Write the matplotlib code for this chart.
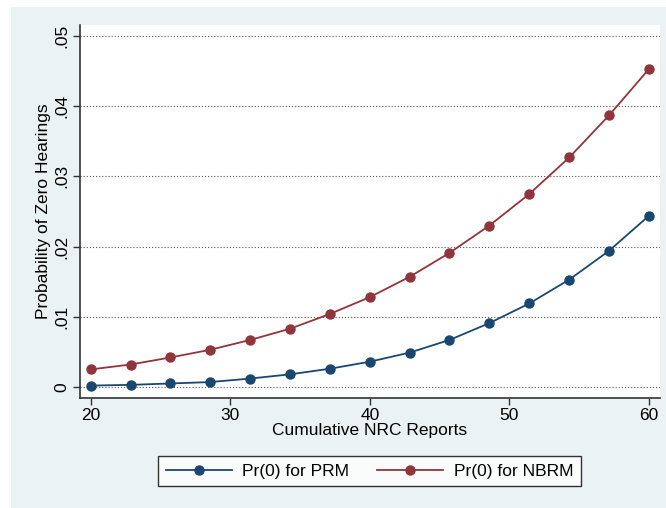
import matplotlib
matplotlib.use("Agg")
import matplotlib.pyplot as plt
from matplotlib.patches import Rectangle

plt.rcParams['font.family'] = ['Liberation Sans', 'DejaVu Sans']

# cumulative NRC reports (15 points, 20 to 60)
reports = [20, 22.86, 25.71, 28.57, 31.43, 34.29, 37.14, 40,
           42.86, 45.71, 48.57, 51.43, 54.29, 57.14, 60]
pr0_prm = [0.0002, 0.0003, 0.0005, 0.0007, 0.0012, 0.0018, 0.0026, 0.0036,
           0.0049, 0.0067, 0.0091, 0.0119, 0.0153, 0.0194, 0.0244]
pr0_nbrm = [0.0025, 0.0032, 0.0042, 0.0053, 0.0067, 0.0083, 0.0104, 0.0128,
            0.0157, 0.0191, 0.0230, 0.0275, 0.0327, 0.0387, 0.0453]
yticks = [0, 0.01, 0.02, 0.03, 0.04, 0.05]
ytick_labels = ["0", ".01", ".02", ".03", ".04", ".05"]
xticks = [20, 30, 40, 50, 60]

W, H = 666, 508
fs = 12.5
fig = plt.figure(figsize=(W / 100, H / 100), dpi=100)
fig.patch.set_facecolor("white")
fig.patches.append(Rectangle((11 / W, 0), 1 - 11 / W, 1 - 7 / H,
                             transform=fig.transFigure, facecolor="#eaf2f3",
                             edgecolor="none", zorder=-10))

ax = fig.add_axes([80 / W, 110 / H, 580 / W, 373 / H])
ax.set_facecolor("white")

navy = "#1a476f"
maroon = "#90353b"
ax.plot(reports, pr0_prm, color=navy, lw=1.3, marker="o", ms=6.5,
        label="Pr(0) for PRM", zorder=3)
ax.plot(reports, pr0_nbrm, color=maroon, lw=1.3, marker="o", ms=6.5,
        label="Pr(0) for NBRM", zorder=3)

ax.set_xlim(19.24, 60.79)
ax.set_ylim(-0.00157, 0.05157)
ax.set_xticks(xticks)
ax.set_yticks(yticks)
ax.set_yticklabels(ytick_labels, rotation=90, va="center")
ax.tick_params(axis="both", labelsize=fs, length=5, width=1,
               color="#333333", direction="out")
ax.tick_params(axis="y", pad=3)
ax.tick_params(axis="x", pad=2)

for y in yticks:
    ax.axhline(y, color="#555555", lw=0.8, ls=(0, (1, 1.8)), zorder=1)

for s in ["top", "right"]:
    ax.spines[s].set_visible(False)
for s in ["left", "bottom"]:
    ax.spines[s].set_color("#333333")
    ax.spines[s].set_linewidth(1.2)

ax.set_xlabel("Cumulative NRC Reports", fontsize=fs, labelpad=0)
ax.set_ylabel("Probability of Zero Hearings", fontsize=fs, labelpad=2)

leg = fig.legend(loc="center", bbox_to_anchor=(369.5 / W, (H - 471) / H),
                 ncol=2, fontsize=fs, frameon=True, fancybox=False,
                 edgecolor="black", handlelength=3.8, columnspacing=1.6,
                 borderpad=0.45, handletextpad=0.6)
leg.get_frame().set_linewidth(1.0)

fig.savefig("out.png", dpi=100)
